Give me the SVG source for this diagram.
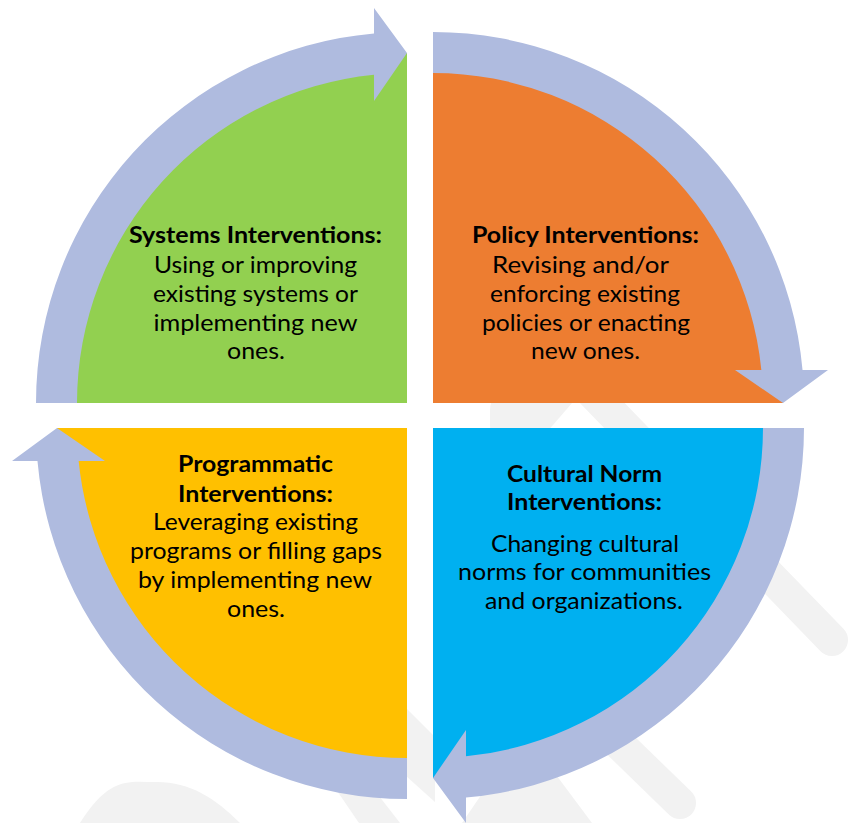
<svg xmlns="http://www.w3.org/2000/svg" width="849" height="823" viewBox="0 0 849 823">
  <style>
    .wm { fill: #F2F2F2; stroke: none; }
    .wml { stroke: #F2F2F2; stroke-linecap: round; fill: none; }
    .ring { fill: #AFBBDF; }
    .t { font-family: Lato, "Liberation Sans", sans-serif; font-size: 23px; fill: #000000; text-anchor: middle; }
    .b { font-weight: 700; }
  </style>
  <defs>
    <path id="ringArrow" d="M 0,-371 A 371 371 0 0 1 369.53,-33 L 395,-33 L 350,0 L 302,-33 L 328.35,-33 A 330 330 0 0 0 0,-330 Z"/>
  </defs>
  <rect x="0" y="0" width="849" height="823" fill="#FFFFFF"/>

  <g id="watermark">
    <line class="wml" x1="580" y1="380" x2="832" y2="640" stroke-width="32"/>
    <path class="wm" d="M 505 395 L 579 395 L 540 440 L 505 440 Q 490 440 490 425 L 490 410 Q 490 395 505 395 Z"/>
    <path class="wm" d="M 405 707 L 435 737 L 435 802 L 405 775 Z"/>
    <path class="wm" d="M 80 823 C 110 775 130 782 157 782 C 190 782 215 798 240 823 Z"/>
    <path class="wm" d="M 316 760 L 351 760 L 400 823 L 359 823 Z"/>
    <path class="wm" d="M 462 823 L 505 760 L 545 760 L 592 823 Z"/>
    <line class="wml" x1="610" y1="735" x2="680" y2="803" stroke-width="32"/>
  </g>

  <g id="systems">
    <path d="M 407,403 L 57,403 A 350 350 0 0 1 407,53 Z" fill="#92D050"/>
    <text class="t b" x="255.5" y="243" textLength="253" lengthAdjust="spacingAndGlyphs">Systems Interventions:</text>
    <text class="t" x="255.5" y="273" textLength="203" lengthAdjust="spacingAndGlyphs">Using or improving</text>
    <text class="t" x="255.5" y="302" textLength="205" lengthAdjust="spacingAndGlyphs">existing systems or</text>
    <text class="t" x="255.5" y="331" textLength="204" lengthAdjust="spacingAndGlyphs">implementing new</text>
    <text class="t" x="256" y="359" textLength="58" lengthAdjust="spacingAndGlyphs">ones.</text>
  </g>

  <g id="policy">
    <path d="M 433,403 L 433,53 A 350 350 0 0 1 783,403 Z" fill="#ED7D31"/>
    <text class="t b" x="585.5" y="243" textLength="227" lengthAdjust="spacingAndGlyphs">Policy Interventions:</text>
    <text class="t" x="580.5" y="273" textLength="177" lengthAdjust="spacingAndGlyphs">Revising and/or</text>
    <text class="t" x="585" y="302" textLength="190" lengthAdjust="spacingAndGlyphs">enforcing existing</text>
    <text class="t" x="586" y="331" textLength="208" lengthAdjust="spacingAndGlyphs">policies or enacting</text>
    <text class="t" x="585.5" y="359" textLength="109" lengthAdjust="spacingAndGlyphs">new ones.</text>
  </g>

  <g id="cultural">
    <path d="M 433,428 L 783,428 A 350 350 0 0 1 433,778 Z" fill="#00B0F0"/>
    <text class="t b" x="584.5" y="482" textLength="155" lengthAdjust="spacingAndGlyphs">Cultural Norm</text>
    <text class="t b" x="584.5" y="510" textLength="155" lengthAdjust="spacingAndGlyphs">Interventions:</text>
    <text class="t" x="585" y="552" textLength="188" lengthAdjust="spacingAndGlyphs">Changing cultural</text>
    <text class="t" x="584.5" y="580" textLength="253" lengthAdjust="spacingAndGlyphs">norms for communities</text>
    <text class="t" x="584" y="609" textLength="198" lengthAdjust="spacingAndGlyphs">and organizations.</text>
  </g>

  <g id="programmatic">
    <path d="M 407,428 L 407,778 A 350 350 0 0 1 57,428 Z" fill="#FFC000"/>
    <text class="t b" x="255.5" y="472" textLength="155" lengthAdjust="spacingAndGlyphs">Programmatic</text>
    <text class="t b" x="255.5" y="502" textLength="155" lengthAdjust="spacingAndGlyphs">Interventions:</text>
    <text class="t" x="255.5" y="530" textLength="205" lengthAdjust="spacingAndGlyphs">Leveraging existing</text>
    <text class="t" x="256" y="559" textLength="252" lengthAdjust="spacingAndGlyphs">programs or filling gaps</text>
    <text class="t" x="255" y="588" textLength="234" lengthAdjust="spacingAndGlyphs">by implementing new</text>
    <text class="t" x="256" y="617" textLength="58" lengthAdjust="spacingAndGlyphs">ones.</text>
  </g>

  <g id="connectors">
    <use href="#ringArrow" class="ring" transform="translate(433,403)"/>
    <use href="#ringArrow" class="ring" transform="translate(433,428) rotate(90)"/>
    <use href="#ringArrow" class="ring" transform="translate(407,428) rotate(180)"/>
    <use href="#ringArrow" class="ring" transform="translate(407,403) rotate(270)"/>
  </g>
</svg>
